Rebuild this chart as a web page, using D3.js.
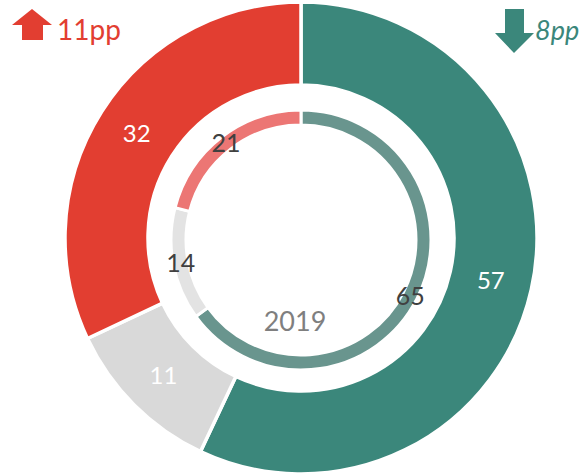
<!DOCTYPE html>
<html>
  <head>
    <meta charset="utf-8">
    <title>Share donut 2019</title>
    <script src="https://d3js.org/d3.v7.min.js"></script>
    <style>
      body { margin: 0; background: #fff; }
      text { font-family: Lato, "Liberation Sans", sans-serif; }
    </style>
  </head>
  <body>
    <svg id="chart" width="587" height="476"></svg>
    <script>
      // data
      var categories = ["down", "neutral", "up"];
      var outerValues = [57, 11, 32];
      var innerValues = [65, 14, 21];
      var outerColors = ["#3b877b", "#d9d9d9", "#e23e31"];
      var innerColors = ["#69958e", "#e3e3e3", "#ec7674"];
      var outerLabelColors = ["#fff", "#fff", "#fff"];
      var centerLabel = "2019";
      var changeLabels = ["11pp", "8pp"];

      var chart = d3.select("#chart");
      var cx = 301, cy = 238;
      var g = chart.append("g").attr("transform", "translate(" + cx + "," + cy + ")");
      var gi = chart.append("g").attr("transform", "translate(" + cx + "," + (cy + 2) + ")");

      var pie = d3.pie().sort(null).value(function(d) { return d; });

      // outer ring
      var outerArc = d3.arc().innerRadius(153).outerRadius(236);
      var outerData = pie(outerValues);
      g.selectAll(".outer")
        .data(outerData)
        .enter().append("path")
          .attr("class", "outer")
          .attr("d", outerArc)
          .attr("fill", function(d, i) { return outerColors[i]; })
          .attr("stroke", "#fff")
          .attr("stroke-width", 3.5);
      g.selectAll(".outerLabel")
        .data(outerData)
        .enter().append("text")
          .attr("class", "outerLabel")
          .attr("transform", function(d) { return "translate(" + outerArc.centroid(d) + ")"; })
          .attr("text-anchor", "middle")
          .attr("dy", "0.36em")
          .attr("font-size", 24)
          .attr("fill", function(d, i) { return outerLabelColors[i]; })
          .text(function(d) { return d.data; });

      // inner ring
      var innerArc = d3.arc().innerRadius(115).outerRadius(130);
      var innerData = pie(innerValues);
      gi.selectAll(".inner")
        .data(innerData)
        .enter().append("path")
          .attr("class", "inner")
          .attr("d", innerArc)
          .attr("fill", function(d, i) { return innerColors[i]; })
          .attr("stroke", "#fff")
          .attr("stroke-width", 3);
      gi.selectAll(".innerLabel")
        .data(innerData)
        .enter().append("text")
          .attr("class", "innerLabel")
          .attr("transform", function(d) { return "translate(" + innerArc.centroid(d) + ")"; })
          .attr("text-anchor", "middle")
          .attr("dy", "0.36em")
          .attr("font-size", 25)
          .attr("fill", "#404040")
          .text(function(d) { return d.data; });

      gi.append("text")
        .attr("x", -6)
        .attr("y", 81)
        .attr("text-anchor", "middle")
        .attr("dy", "0.36em")
        .attr("font-size", 27)
        .attr("fill", "#7f7f7f")
        .text(centerLabel);

      // change markers
      chart.append("path")
        .attr("d", "M12,25 L32,9 L52,25 L43,25 L43,40 L22,40 L22,25 Z")
        .attr("fill", "#e23e31");
      chart.append("text")
        .attr("x", 57)
        .attr("y", 40)
        .attr("font-size", 28)
        .attr("fill", "#e23e31")
        .text(changeLabels[0]);
      chart.append("path")
        .attr("d", "M505,9 L524,9 L524,33 L534,33 L514,53 L495,33 L505,33 Z")
        .attr("fill", "#3b877b");
      chart.append("text")
        .attr("x", 535)
        .attr("y", 40)
        .attr("font-size", 27)
        .attr("font-style", "italic")
        .attr("fill", "#3b877b")
        .text(changeLabels[1]);
    </script>
  </body>
</html>
